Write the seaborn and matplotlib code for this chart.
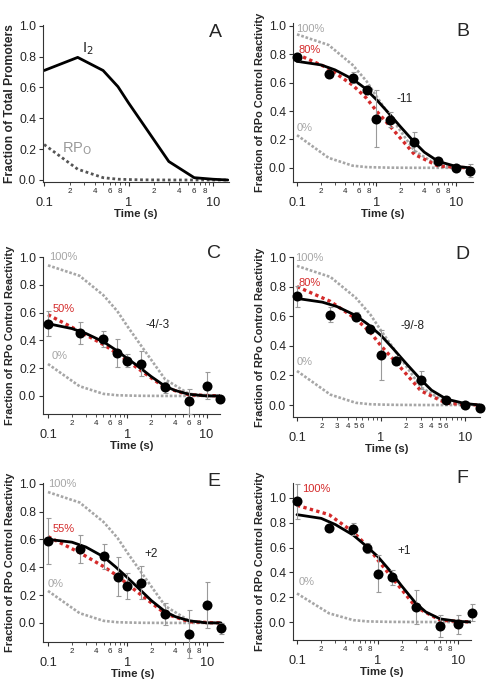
import numpy as np
import matplotlib
matplotlib.use('Agg')
import matplotlib.pyplot as plt
from matplotlib.ticker import FixedLocator, FuncFormatter
import seaborn as sns

sns.set_style('ticks')
plt.rcParams['font.family'] = ['Liberation Sans', 'DejaVu Sans']

# ── data ──
t = [0.1, 0.25, 0.5, 0.75, 1.0, 1.5, 3.0, 6.0, 10.0, 15.0]

# panel A model curves
i2 = [0.71, 0.795, 0.71, 0.605, 0.50, 0.36, 0.12, 0.015, 0.005, 0.0]
rpo = [0.23, 0.07, 0.015, 0.005, 0.003, 0.001, 0.0, 0.0, 0.0, 0.0]

# grey reference curves (100% / 0%)
gray100 = [0.94, 0.865, 0.725, 0.61, 0.503, 0.361, 0.12, 0.015, 0.005, 0.0]
gray0 = [0.23, 0.07, 0.015, 0.005, 0.003, 0.001, 0.0, 0.0, 0.0, 0.0]

# red mixed-model curves
red_b = [0.80, 0.70, 0.583, 0.49, 0.40, 0.29, 0.095, 0.012, 0.004, 0.0]
red_c = [0.585, 0.465, 0.37, 0.305, 0.253, 0.181, 0.06, 0.008, 0.003, 0.0]
red_d = [0.80, 0.70, 0.583, 0.49, 0.40, 0.29, 0.095, 0.012, 0.004, 0.0]
red_e = [0.62, 0.505, 0.405, 0.337, 0.278, 0.199, 0.066, 0.008, 0.003, 0.0]
red_f = [0.94, 0.865, 0.725, 0.61, 0.503, 0.361, 0.12, 0.015, 0.005, 0.0]

# black fits
t_fit = [0.1, 0.2, 0.3, 0.5, 0.7, 1.0, 1.4, 2.0, 3.0, 4.0, 6.0, 10.0, 15.0]
fit_b = [0.75, 0.725, 0.69, 0.625, 0.565, 0.48, 0.39, 0.29, 0.18, 0.11, 0.045, 0.01, 0.0]
fit_c = [0.52, 0.485, 0.45, 0.39, 0.335, 0.27, 0.21, 0.14, 0.07, 0.04, 0.012, 0.0, 0.0]
fit_d = [0.72, 0.695, 0.665, 0.605, 0.545, 0.47, 0.38, 0.28, 0.17, 0.10, 0.04, 0.01, 0.0]
fit_e = [0.60, 0.58, 0.545, 0.475, 0.405, 0.325, 0.245, 0.16, 0.08, 0.045, 0.015, 0.0, 0.0]
fit_f = [0.865, 0.835, 0.785, 0.70, 0.62, 0.53, 0.42, 0.29, 0.15, 0.08, 0.025, 0.005, 0.0]

# measured points and errors
pts_b = [0.78, 0.66, 0.635, 0.55, 0.345, 0.34, 0.185, 0.045, 0.0, -0.02]
err_b = [0.03, 0.02, 0.04, 0.02, 0.20, 0.05, 0.065, 0.02, 0.02, 0.045]
pts_c = [0.52, 0.455, 0.41, 0.31, 0.255, 0.23, 0.063, -0.04, 0.075, -0.022]
err_c = [0.09, 0.08, 0.06, 0.10, 0.05, 0.09, 0.04, 0.09, 0.10, 0.01]
pts_d = [0.735, 0.61, 0.597, 0.516, 0.34, 0.30, 0.17, 0.036, 0.0, -0.023]
err_d = [0.07, 0.05, 0.03, 0.02, 0.17, 0.03, 0.06, 0.01, 0.01, 0.01]
pts_e = [0.59, 0.532, 0.48, 0.33, 0.267, 0.29, 0.063, -0.08, 0.13, -0.04]
err_e = [0.165, 0.10, 0.09, 0.14, 0.095, 0.12, 0.08, 0.17, 0.165, 0.04]
pts_f = [0.973, 0.757, 0.75, 0.60, 0.39, 0.36, 0.12, -0.033, -0.02, 0.075]
err_f = [0.14, 0.02, 0.05, 0.04, 0.15, 0.06, 0.14, 0.09, 0.08, 0.07]

ylab = "Fraction of RPo Control Reactivity"
GRAY = '#a6a6a6'
RED = '#d42a2a'
DOT_G = (0, (1.0, 0.7))
DOT_R = (0, (1.0, 1.0))

fig = plt.figure(figsize=(4.86, 6.8), dpi=100)


def px_axes(l, r, top, bot):
    W, H = 486.0, 680.0
    return fig.add_axes([l / W, 1 - bot / H, (r - l) / W, (bot - top) / H])


def style_axis(ax, xlim, ylim, minor_lab=(2, 4, 6, 8)):
    ax.set_xscale('log')
    ax.set_xlim(*xlim)
    ax.set_ylim(*ylim)
    ax.set_yticks([0.0, 0.2, 0.4, 0.6, 0.8, 1.0])
    ax.set_yticklabels(['0.0', '0.2', '0.4', '0.6', '0.8', '1.0'])
    ax.xaxis.set_major_locator(FixedLocator([0.1, 1, 10]))
    ax.xaxis.set_major_formatter(FuncFormatter(lambda v, p: {0.1: '0.1', 1: '1', 10: '10'}.get(round(v, 3), '')))
    minors = [m * d for d in (0.1, 1, 10) for m in range(2, 10)]
    ax.xaxis.set_minor_locator(FixedLocator(minors))

    def mfmt(v, p):
        d = 10 ** np.floor(np.log10(v) + 1e-9)
        m = int(round(v / d))
        return str(m) if m in minor_lab and v < 10 else ''
    ax.xaxis.set_minor_formatter(FuncFormatter(mfmt))
    ax.tick_params(axis='both', which='major', labelsize=8.8, length=3, width=0.8, color='#333333')
    ax.tick_params(axis='x', which='major', labelsize=9.2, pad=7.5)
    ax.tick_params(axis='x', which='minor', labelsize=5.8, length=2, width=0.6, pad=2, color='#333333')
    ax.tick_params(axis='y', which='major', pad=2)
    for s in ['top', 'right']:
        ax.spines[s].set_visible(False)
    for s in ['left', 'bottom']:
        ax.spines[s].set_linewidth(0.8)
        ax.spines[s].set_color('#333333')
    ax.set_xlabel("Time (s)", fontsize=8.2, fontweight='bold', labelpad=0.5)


def data_panel(ax, red, fit, pts, err, show100=True):
    if show100:
        sns.lineplot(x=t, y=gray100, ax=ax, color=GRAY, lw=1.9, linestyle=DOT_G, zorder=1)
    sns.lineplot(x=t, y=gray0, ax=ax, color=GRAY, lw=1.9, linestyle=DOT_G, zorder=1)
    sns.lineplot(x=t, y=red, ax=ax, color=RED, lw=2.4, linestyle=DOT_R, zorder=2)
    sns.lineplot(x=t_fit, y=fit, ax=ax, color='black', lw=2.0, zorder=3)
    ax.errorbar(t, pts, yerr=err, fmt='none', ecolor='#9a9a9a', elinewidth=0.8,
                capsize=1.8, capthick=0.8, zorder=4, clip_on=False)
    sns.scatterplot(x=t, y=pts, ax=ax, color='black', s=52, edgecolor='black',
                    linewidth=0, zorder=5, clip_on=False)
    ax.set_ylabel(ylab, fontsize=7.9, fontweight='bold', labelpad=3)


# ── Panel A ──
axA = px_axes(43, 229, 25, 182)
sns.lineplot(x=t, y=rpo, ax=axA, color='#555555', lw=2.0, linestyle=DOT_R, zorder=1)
sns.lineplot(x=t, y=i2, ax=axA, color='black', lw=2.0, zorder=2)
style_axis(axA, (0.097, 15.5), (-0.013, 1.005))
axA.set_ylabel("Fraction of Total Promoters", fontsize=8.7, fontweight='bold', labelpad=2)
axA.text(0.28, 0.83, "I$_2$", fontsize=10.5, color='#222222')
axA.text(0.165, 0.18, "RP$_\\mathrm{O}$", fontsize=10.5, color='#999999')

# ── Panel B ──
axB = px_axes(293, 473, 23, 182)
data_panel(axB, red_b, fit_b, pts_b, err_b)
style_axis(axB, (0.089, 16.4), (-0.1, 1.02))
axB.text(0.098, 0.96, "100%", fontsize=8, color=GRAY)
axB.text(0.104, 0.81, "80%", fontsize=8, color=RED)
axB.text(0.098, 0.26, "0%", fontsize=8, color=GRAY)
axB.text(1.78, 0.465, "-11", fontsize=8.5, color='#222222')

# ── Panel C ──
axC = px_axes(43, 220, 257, 414)
data_panel(axC, red_c, fit_c, pts_c, err_c)
style_axis(axC, (0.0865, 14.8), (-0.13, 1.0))
axC.text(0.104, 0.975, "100%", fontsize=8, color=GRAY)
axC.text(0.113, 0.605, "50%", fontsize=8, color=RED)
axC.text(0.11, 0.265, "0%", fontsize=8, color=GRAY)
axC.text(1.72, 0.49, "-4/-3", fontsize=8.5, color='#222222')

# ── Panel D ──
axD = px_axes(293, 480, 257, 417)
data_panel(axD, red_d, fit_d, pts_d, err_d)
style_axis(axD, (0.0896, 15.1), (-0.081, 1.0), minor_lab=(2, 3, 4, 5, 6))
axD.text(0.096, 0.975, "100%", fontsize=8, color=GRAY)
axD.text(0.104, 0.805, "80%", fontsize=8, color=RED)
axD.text(0.098, 0.27, "0%", fontsize=8, color=GRAY)
axD.text(1.72, 0.515, "-9/-8", fontsize=8.5, color='#222222')

# ── Panel E ──
axE = px_axes(43, 223, 483, 642)
data_panel(axE, red_e, fit_e, pts_e, err_e)
style_axis(axE, (0.0865, 15.9), (-0.137, 1.005))
axE.text(0.099, 0.975, "100%", fontsize=8, color=GRAY)
axE.text(0.113, 0.655, "55%", fontsize=8, color=RED)
axE.text(0.099, 0.255, "0%", fontsize=8, color=GRAY)
axE.text(1.62, 0.475, "+2", fontsize=8.5, color='#222222')

# ── Panel F ──
axF = px_axes(293, 471, 483, 640)
data_panel(axF, red_f, fit_f, pts_f, err_f, show100=False)
style_axis(axF, (0.0892, 14.5), (-0.145, 1.12))
axF.text(0.117, 1.05, "100%", fontsize=8, color=RED)
axF.text(0.104, 0.30, "0%", fontsize=8, color=GRAY)
axF.text(1.78, 0.545, "+1", fontsize=8.5, color='#222222')

# panel letters
for letter, cx, by in [('A', 215, 37), ('B', 463, 36), ('C', 214, 258),
                       ('D', 462, 259), ('E', 214, 486), ('F', 462, 483)]:
    fig.text(cx / 486, 1 - by / 680, letter, fontsize=14, ha='center', va='baseline')

fig.savefig('out.png', dpi=100)
